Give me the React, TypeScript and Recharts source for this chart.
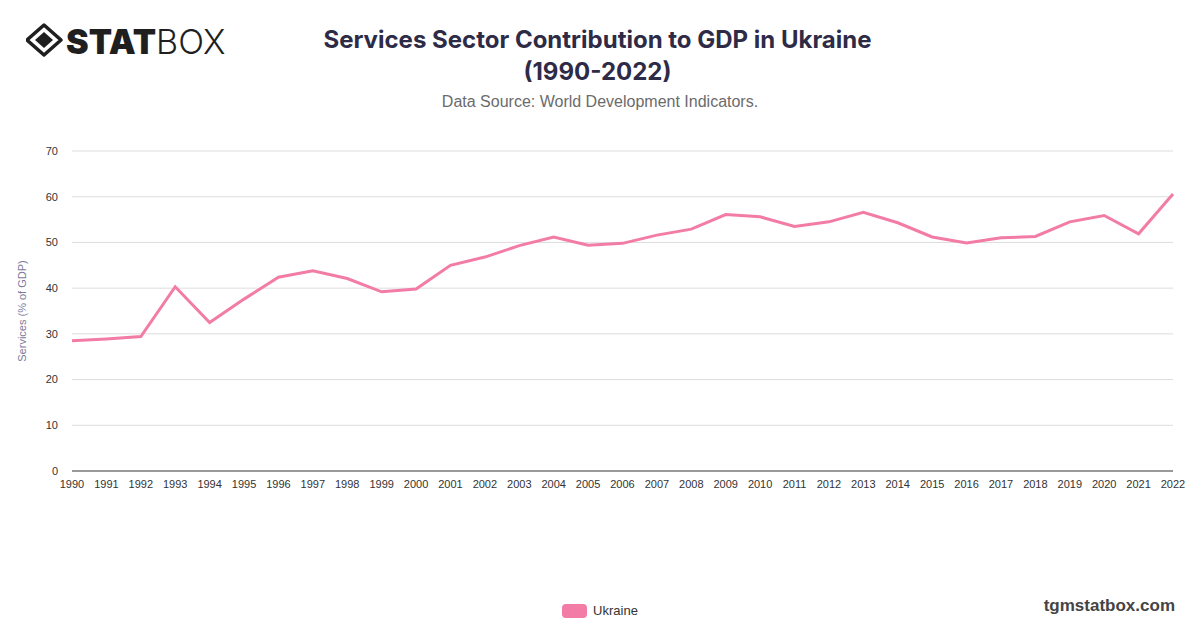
import React from 'react';
import { LineChart, Line, XAxis, YAxis, CartesianGrid, Legend } from 'recharts';

const years = [
  '1990', '1991', '1992', '1993', '1994', '1995', '1996', '1997', '1998', '1999',
  '2000', '2001', '2002', '2003', '2004', '2005', '2006', '2007', '2008', '2009',
  '2010', '2011', '2012', '2013', '2014', '2015', '2016', '2017', '2018', '2019',
  '2020', '2021', '2022',
];

const ukraine = [
  28.5, 28.9, 29.4, 40.3, 32.5, 37.6, 42.4, 43.8, 42.1, 39.2,
  39.8, 45.0, 46.8, 49.3, 51.2, 49.4, 49.8, 51.6, 52.9, 56.1,
  55.6, 53.5, 54.5, 56.6, 54.3, 51.2, 49.9, 51.0, 51.3, 54.5,
  55.9, 51.9, 60.6,
];

const yTicks = [0, 10, 20, 30, 40, 50, 60, 70];

const LINE_COLOR = '#f27ca6';

const chartData = years.map((year, i) => ({ year, Ukraine: ukraine[i] }));

const Logo = () => (
  <svg width={220} height={40} style={{ position: 'absolute', left: 26, top: 21 }}>
    <g transform="translate(18,19)">
      <polygon points="0,-15 17,0 0,15 -17,0" fill="none" stroke="#1f1f1f" strokeWidth={3.5} strokeLinejoin="round" />
      <polygon points="0,-8 9,0 0,8 -9,0" fill="#1f1f1f" />
    </g>
    <text x={40} y={33} fontFamily="Inter, sans-serif" fontSize={34} fill="#1f1f1f">
      <tspan fontWeight={900}>STAT</tspan>
      <tspan fontWeight={300}>BOX</tspan>
    </text>
  </svg>
);

const LegendContent = () => (
  <div style={{ display: 'flex', justifyContent: 'center', alignItems: 'center', fontFamily: '"Liberation Sans", Arial, sans-serif', fontSize: 13, color: '#333' }}>
    <span style={{ width: 25, height: 14, background: LINE_COLOR, borderRadius: 4, marginRight: 6, display: 'inline-block' }} />
    <span>Ukraine</span>
  </div>
);

export default function App() {
  return (
    <div style={{ position: 'absolute', left: 0, top: 0, width: 1200, height: 628, background: '#fff', overflow: 'hidden' }}>
      <Logo />
      <div style={{ position: 'absolute', left: 0, top: 24, width: 1195, textAlign: 'center', fontFamily: 'Inter, sans-serif', fontWeight: 700, fontSize: 24, lineHeight: '32px', color: '#2e2b47' }}>
        Services Sector Contribution to GDP in Ukraine
        <br />
        (1990-2022)
      </div>
      <div style={{ position: 'absolute', left: 0, top: 93, width: 1200, textAlign: 'center', fontFamily: '"Liberation Sans", Arial, sans-serif', fontSize: 16, color: '#6b6b6b' }}>
        Data Source: World Development Indicators.
      </div>
      <div style={{ position: 'absolute', right: 25, top: 596, fontFamily: '"Liberation Sans", Arial, sans-serif', fontWeight: 700, fontSize: 17, color: '#444' }}>
        tgmstatbox.com
      </div>
      <div style={{ position: 'absolute', left: 0, top: 0 }}>
        <LineChart
          width={1200}
          height={628}
          data={chartData}
          margin={{ top: 151, right: 27, bottom: 112, left: 32 }}
        >
          <CartesianGrid vertical={false} stroke="#dddddd" />
          <XAxis
            dataKey="year"
            interval={0}
            tickLine={false}
            axisLine={{ stroke: '#444', strokeWidth: 1 }}
            tick={{ fontSize: 11, fill: '#333', fontFamily: '"Liberation Sans", Arial, sans-serif' }}
            tickMargin={3}
            height={30}
          />
          <YAxis
            domain={[0, 70]}
            ticks={yTicks}
            width={40}
            tickLine={false}
            axisLine={false}
            tick={{ fontSize: 11, fill: '#333', fontFamily: '"Liberation Sans", Arial, sans-serif' }}
            tickMargin={8}
            label={{
              value: 'Services (% of GDP)',
              angle: -90,
              position: 'insideLeft',
              offset: -10,
              style: { fontSize: 11, fill: '#7c7a9a', fontFamily: '"Liberation Sans", Arial, sans-serif', textAnchor: 'middle' },
            }}
          />
          <Legend
            content={<LegendContent />}
            wrapperStyle={{ position: 'absolute', top: 603, left: 0, width: 1200 }}
          />
          <Line
            type="linear"
            dataKey="Ukraine"
            stroke={LINE_COLOR}
            strokeWidth={3}
            dot={false}
            activeDot={false}
            isAnimationActive={false}
          />
        </LineChart>
      </div>
    </div>
  );
}
